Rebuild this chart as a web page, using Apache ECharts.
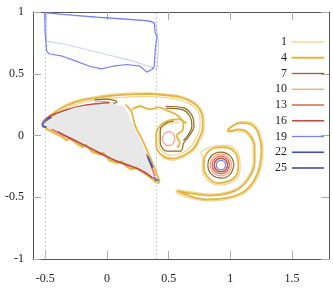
<!DOCTYPE html>
<html>
<head>
<meta charset="utf-8">
<script src="https://cdn.jsdelivr.net/npm/echarts@6/dist/echarts.min.js"></script>
<style>html,body{margin:0;padding:0;background:#fff}#c{width:333px;height:294px}</style>
</head>
<body>
<div id="c"></div>
<script>
// ---- tick labels / legend ----
const X_TICKS = [-0.5, 0, 0.5, 1, 1.5];
const Y_TICKS = [-1, -0.5, 0, 0.5, 1];
const LEGEND_NAMES = ['1','4','7','10','13','16','19','22','25'];
const GUIDE_X = [-0.5, 0.4];

// ---- body (grey filled) ----
const BODY = [[-0.525,0.089],[-0.47,0.143],[-0.333,0.197],[-0.197,0.232],[-0.06,0.251],[0.049,0.259],[0.131,0.237],[0.172,0.184],[0.213,0.075],[0.268,-0.032],[0.323,-0.154],[0.364,-0.249],[0.391,-0.33],[0.405,-0.362],[0.37,-0.34],[0.268,-0.275],[0.159,-0.235],[0.022,-0.181],[-0.115,-0.113],[-0.251,-0.046],[-0.361,0.008],[-0.47,0.054],[-0.511,0.075],[-0.525,0.089]];

// ---- series 1 ----
const S1_ARC_OUT = [[-0.51,0.125],[-0.36,0.235],[-0.224,0.29],[-0.087,0.316],[0.049,0.335],[0.186,0.343],[0.323,0.346],[0.459,0.338],[0.6,0.318],[0.70,0.275],[0.762,0.215],[0.788,0.13],[0.786,0.045],[0.755,-0.04],[0.70,-0.125],[0.62,-0.175],[0.53,-0.2],[0.45,-0.18]];
const S1_ARC_IN = [[-0.5,0.11],[-0.36,0.205],[-0.224,0.26],[-0.087,0.288],[0.049,0.305],[0.186,0.312],[0.323,0.316],[0.459,0.308],[0.59,0.288],[0.68,0.25],[0.735,0.2],[0.755,0.13],[0.752,0.05],[0.722,-0.02],[0.676,-0.095],[0.61,-0.14],[0.53,-0.162],[0.46,-0.14],[0.42,-0.075],[0.42,0.0],[0.45,0.065],[0.51,0.1],[0.585,0.105]];
const S1_RING = [[1.08,-0.24],[1.055,-0.13],[0.96,-0.08],[0.87,-0.085],[0.8,-0.11],[0.76,-0.14],[0.775,-0.17],[0.77,-0.26],[0.81,-0.355],[0.9,-0.4],[1.0,-0.385],[1.065,-0.33],[1.08,-0.24]];
const S1_BOTTOM = [[-0.49,0.045],[-0.42,0.01],[-0.36,-0.02],[-0.33,-0.045],[-0.3,-0.03],[-0.25,-0.07],[-0.2,-0.1],[-0.17,-0.085],[-0.12,-0.14],[-0.06,-0.16],[-0.03,-0.15],[0.02,-0.21],[0.08,-0.23],[0.12,-0.22],[0.16,-0.26],[0.2,-0.28],[0.24,-0.27],[0.28,-0.3],[0.33,-0.33],[0.37,-0.36],[0.41,-0.39]];
const S1_CRES = [[0.99,0.06],[1.09,0.115],[1.18,0.1],[1.238,0.025],[1.265,-0.113],[1.25,-0.255],[1.207,-0.366],[1.12,-0.463],[0.979,-0.516],[0.815,-0.53],[0.672,-0.505],[0.56,-0.46],[0.565,-0.44],[0.651,-0.452],[0.842,-0.474],[1.028,-0.44],[1.133,-0.35],[1.185,-0.221],[1.185,-0.087],[1.135,0.012],[1.06,0.038],[0.99,0.025],[0.97,0.045]];

// ---- series 4 ----
const S4_ARC = [[-0.519,0.116],[-0.361,0.224],[-0.224,0.278],[-0.087,0.305],[0.049,0.324],[0.186,0.332],[0.323,0.336],[0.459,0.328],[0.596,0.308],[0.694,0.267],[0.752,0.211],[0.776,0.13],[0.774,0.049],[0.743,-0.032],[0.694,-0.113],[0.62,-0.162],[0.53,-0.186],[0.448,-0.162],[0.399,-0.081],[0.399,0.008],[0.432,0.081],[0.498,0.121],[0.58,0.13],[0.645,0.097]];
const S4_INNER = [[0.2,0.211],[0.268,0.237],[0.35,0.211],[0.416,0.227],[0.489,0.202],[0.571,0.162],[0.62,0.097],[0.612,0.04],[0.563,0.0],[0.59,-0.06],[0.57,-0.1]];
const S4_EDGE = [[0.15,0.25],[0.195,0.2],[0.228,0.08],[0.283,-0.03],[0.338,-0.15],[0.38,-0.25],[0.41,-0.33],[0.425,-0.37],[0.41,-0.39]];
const S4_BOTTOM = [[-0.5,0.06],[-0.42,0.02],[-0.36,-0.01],[-0.33,-0.035],[-0.3,-0.02],[-0.25,-0.06],[-0.2,-0.09],[-0.17,-0.075],[-0.12,-0.13],[-0.06,-0.15],[-0.03,-0.14],[0.02,-0.2],[0.08,-0.22],[0.12,-0.21],[0.16,-0.25],[0.2,-0.27],[0.24,-0.26],[0.28,-0.29],[0.33,-0.32],[0.37,-0.35],[0.4,-0.38]];
const S4_RING = [[1.065,-0.24],[1.04,-0.14],[0.95,-0.095],[0.87,-0.1],[0.82,-0.13],[0.79,-0.18],[0.785,-0.26],[0.82,-0.34],[0.9,-0.385],[0.99,-0.37],[1.05,-0.32],[1.065,-0.24]];
const S4_CRES = [[0.979,0.049],[1.088,0.103],[1.17,0.089],[1.225,0.022],[1.252,-0.113],[1.238,-0.249],[1.197,-0.356],[1.115,-0.451],[0.979,-0.504],[0.815,-0.518],[0.678,-0.492],[0.569,-0.451],[0.651,-0.464],[0.842,-0.486],[1.033,-0.451],[1.143,-0.356],[1.197,-0.221],[1.197,-0.087],[1.143,0.022],[1.061,0.049],[0.992,0.035],[0.979,0.049]];

// ---- series 7 ----
const S7_HOOK = [[0.473,0.237],[0.623,0.224],[0.692,0.156],[0.705,0.075],[0.664,-0.006],[0.623,-0.059],[0.596,-0.127],[0.487,-0.127],[0.432,-0.059],[0.432,0.049],[0.487,0.103],[0.541,0.116]];
const S7_HOOK2 = [[0.48,0.222],[0.615,0.208],[0.675,0.15],[0.688,0.075],[0.655,0.0],[0.62,-0.04]];
const S7_TOP = [[-0.1,0.29],[-0.02,0.295],[0.06,0.285],[0.08,0.27],[0.05,0.262]];
const S7_RING = [[1.03,-0.235],[1.0,-0.165],[0.924,-0.134],[0.85,-0.162],[0.818,-0.24],[0.848,-0.315],[0.93,-0.345],[1.0,-0.312],[1.03,-0.235]];

// ---- series 10 ----
const S10_CIRCLE = [[0.55,-0.025],[0.535,0.015],[0.5,0.032],[0.465,0.015],[0.45,-0.025],[0.465,-0.065],[0.5,-0.082],[0.535,-0.065],[0.55,-0.025]];
const S10_RING = [[1.012,-0.239],[0.986,-0.177],[0.924,-0.151],[0.862,-0.177],[0.836,-0.239],[0.862,-0.301],[0.924,-0.327],[0.986,-0.301],[1.012,-0.239]];
const S10_TOP = [[-0.1,0.272],[-0.06,0.278],[0.0,0.274],[0.03,0.265]];

// ---- series 13 ----
const S13_RING = [[0.995,-0.239],[0.974,-0.189],[0.924,-0.168],[0.874,-0.189],[0.853,-0.239],[0.874,-0.289],[0.924,-0.31],[0.974,-0.289],[0.995,-0.239]];
const S13_BOTTOM = [[-0.45,0.052],[-0.361,0.006],[-0.251,-0.048],[-0.115,-0.115],[0.022,-0.183],[0.159,-0.237],[0.268,-0.277],[0.36,-0.338]];
const S13_EDGE = [[0.32,-0.15],[0.36,-0.25],[0.39,-0.33]];

// ---- series 16 ----
const S16_RING = [[0.979,-0.239],[0.963,-0.2],[0.924,-0.184],[0.885,-0.2],[0.869,-0.239],[0.885,-0.278],[0.924,-0.294],[0.963,-0.278],[0.979,-0.239]];
const S16_TOP = [[-0.52,0.1],[-0.47,0.152],[-0.333,0.207],[-0.2,0.242],[-0.06,0.26],[0.02,0.266]];
const S16_BOTTOM = [[-0.40,0.03],[-0.3,-0.02],[-0.18,-0.08],[-0.05,-0.146],[0.08,-0.208],[0.2,-0.25],[0.3,-0.295],[0.37,-0.345]];

// ---- series 19 ----
const S19_BOX = [[-0.505,0.995],[-0.36,0.982],[-0.087,0.958],[0.186,0.94],[0.35,0.926],[0.383,0.913],[0.391,0.832],[0.405,0.804],[0.391,0.696],[0.383,0.561],[0.364,0.534],[0.323,0.513],[0.268,0.561],[0.159,0.575],[0.049,0.561],[-0.046,0.54],[-0.142,0.561],[-0.251,0.602],[-0.361,0.642],[-0.47,0.662],[-0.489,0.683],[-0.502,0.832],[-0.505,0.995]];
const S19_BOX2 = [[-0.49,0.99],[-0.2,0.965],[0.1,0.945],[0.33,0.93],[0.4,0.9],[0.418,0.75],[0.41,0.6],[0.405,0.534],[0.37,0.55],[0.295,0.575],[0.213,0.602],[-0.06,0.67],[-0.333,0.737],[-0.49,0.764],[-0.49,0.99]];
const S19_RING = [[0.962,-0.239],[0.951,-0.212],[0.924,-0.201],[0.897,-0.212],[0.886,-0.239],[0.897,-0.266],[0.924,-0.277],[0.951,-0.266],[0.962,-0.239]];

// ---- series 22 ----
const S22_LEAD = [[-0.45,0.15],[-0.5,0.12],[-0.524,0.095],[-0.52,0.075],[-0.49,0.068]];
const S22_EDGE = [[0.33,-0.17],[0.37,-0.26]];

// ---- series 25 ----
const S25_LEAD = [[-0.48,0.13],[-0.515,0.105],[-0.52,0.085]];
const S25_TIP = [[0.38,-0.335],[0.4,-0.36],[0.42,-0.362]];

// ---- styles ----
const STYLE = {
  '1':  {color:'#f2d48c', width:1.2},
  '4':  {color:'#e3b440', width:1.8},
  '7':  {color:'#8a6d1e', width:1.2},
  '10': {color:'#f0a090', width:1.2},
  '13': {color:'#e0705f', width:1.5},
  '16': {color:'#b85048', width:1.5},
  '19': {color:'#7482ec', width:1.2},
  '22': {color:'#3f4fb0', width:1.8},
  '25': {color:'#6a74a8', width:2}
};
const FONT = 'Liberation Serif';

function line(name, data, smooth, opacity) {
  const st = STYLE[name];
  return {
    type:'line', name:name, data:data, symbol:'none', smooth:smooth ? 0.35 : false,
    lineStyle:{color:st.color, width:st.width, opacity: opacity==null?1:opacity},
    itemStyle:{color:st.color}, z:3, silent:true
  };
}

const series = [];
series.push({
  type:'custom', name:'body', data:[[0,0]], z:1, silent:true,
  renderItem:function(params, api){
    return {type:'polygon', shape:{points: BODY.map(function(p){return api.coord(p);})},
            style:{fill:'#e8e8e8', stroke:null}};
  }
});
GUIDE_X.forEach(function(gx){
  series.push({type:'line', name:'guide', data:[[gx,-1],[gx,1]], symbol:'none', z:2, silent:true,
    lineStyle:{color:'#c8c8c8', width:1, type:[2,2]}});
});
series.push(line('1', S1_ARC_OUT, true));
series.push(line('1', S1_ARC_IN, true));
series.push(line('1', S1_RING, true));
series.push(line('1', S1_BOTTOM, false));
series.push(line('1', S1_CRES, true));
series.push(line('4', S4_ARC, true));
series.push(line('4', S4_INNER, true));
series.push(line('4', S4_EDGE, true));
series.push(line('4', S4_BOTTOM, false));
series.push(line('4', S4_RING, true));
series.push(line('4', S4_CRES, true));
series.push(line('7', S7_HOOK, true));
series.push(line('7', S7_HOOK2, true));
series.push(line('7', S7_TOP, true));
series.push(line('7', S7_RING, true));
series.push(line('10', S10_CIRCLE, true));
series.push(line('10', S10_RING, true));
series.push(line('10', S10_TOP, true));
series.push(line('13', S13_RING, true));
series.push(line('13', S13_BOTTOM, true));
series.push(line('13', S13_EDGE, true));
series.push(line('16', S16_RING, true));
series.push(line('16', S16_TOP, true));
series.push(line('16', S16_BOTTOM, true));
series.push(line('19', S19_BOX, false));
series.push(line('19', S19_BOX2, false, 0.35));
series.push(line('19', S19_RING, true));
series.push(line('22', S22_LEAD, true));
series.push(line('22', S22_EDGE, false));
series.push(line('25', S25_LEAD, true));
series.push(line('25', S25_TIP, true));

const LEGEND_ICON_W = {'1':1.3,'4':2,'7':1.3,'10':1.3,'13':1.6,'16':1.6,'19':1.3,'22':1.6,'25':2};
const legendData = LEGEND_NAMES.map(function(n){
  return {name:n, icon:'path://M0,0H32V' + LEGEND_ICON_W[n] + 'H0Z'};
});

const axisBase = {
  type:'value', scale:false,
  axisLine:{show:true, onZero:false, lineStyle:{color:'#555', width:1}},
  axisTick:{show:true, inside:true, length:8, lineStyle:{color:'#aaa', width:1}},
  splitLine:{show:false}
};
const chart = echarts.init(document.getElementById('c'), null, {renderer:'canvas'});
chart.setOption({
  animation:false,
  backgroundColor:'#fff',
  grid:{left:33, right:4, top:12, bottom:35, containLabel:false},
  xAxis:[
    Object.assign({}, axisBase, {position:'bottom', min:-0.6, max:1.8,
      axisTick:Object.assign({}, axisBase.axisTick, {customValues:X_TICKS}),
      axisLabel:{show:true, customValues:X_TICKS, margin:14, color:'#222', fontFamily:FONT, fontSize:12}}),
    Object.assign({}, axisBase, {position:'top', min:-0.6, max:1.8,
      axisTick:Object.assign({}, axisBase.axisTick, {customValues:X_TICKS}),
      axisLabel:{show:false}})
  ],
  yAxis:[
    Object.assign({}, axisBase, {position:'left', min:-1, max:1,
      axisTick:Object.assign({}, axisBase.axisTick, {customValues:Y_TICKS}),
      axisLabel:{show:true, customValues:Y_TICKS, margin:9, color:'#222', fontFamily:FONT, fontSize:12}}),
    Object.assign({}, axisBase, {position:'right', min:-1, max:1,
      axisTick:Object.assign({}, axisBase.axisTick, {customValues:Y_TICKS}),
      axisLabel:{show:false}})
  ],
  legend:{
    data:legendData, orient:'vertical', align:'right', right:9, top:35, padding:0,
    itemWidth:32, itemHeight:14, itemGap:1.75, selectedMode:false, symbolKeepAspect:true,
    textStyle:{color:'#222', fontFamily:FONT, fontSize:12, lineHeight:14}
  },
  series:series
});
</script>
</body>
</html>
